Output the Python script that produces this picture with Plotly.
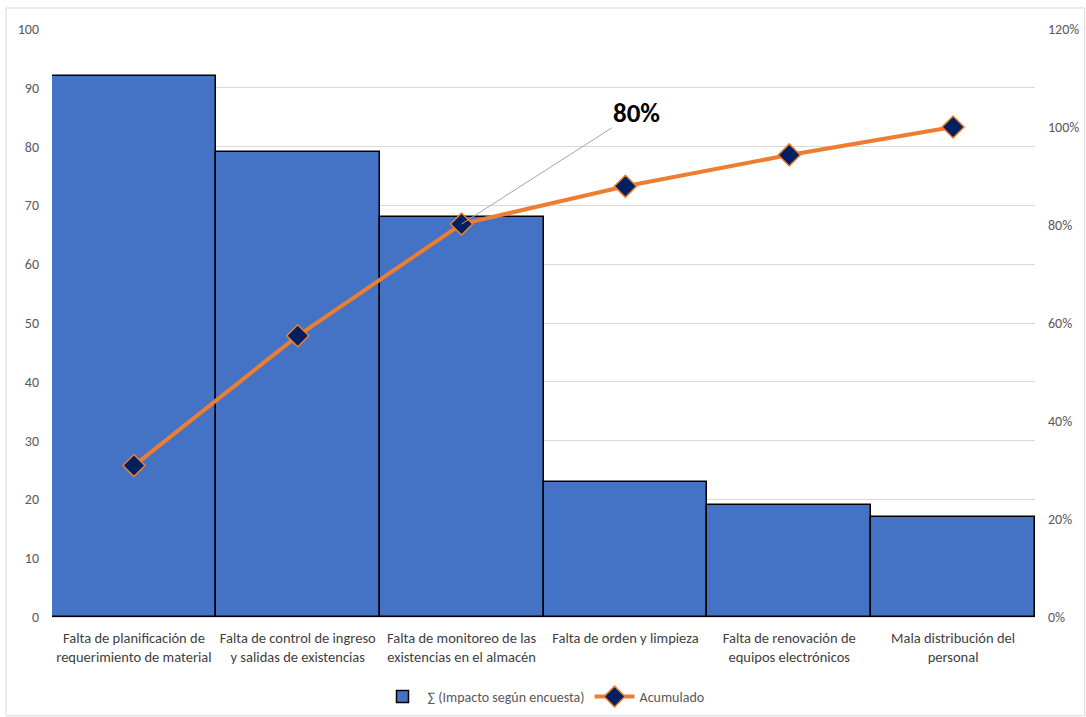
import plotly.graph_objects as go

categories = [
    "Falta de planificación de<br>requerimiento de material",
    "Falta de control de ingreso<br>y salidas de existencias",
    "Falta de monitoreo de las<br>existencias en el almacén",
    "Falta de orden y limpieza",
    "Falta de renovación de<br>equipos electrónicos",
    "Mala distribución del<br>personal",
]
impacto = [92, 79, 68, 23, 19, 17]
acumulado = [30.9, 57.4, 80.2, 87.9, 94.3, 100.0]
left_ticks = list(range(0, 101, 10))
right_ticks = list(range(0, 121, 20))
right_labels = [f"{v}%" for v in right_ticks]

FONT = "Carlito, Liberation Sans Narrow, Lato, sans-serif"
GRAY = "#595959"

fig = go.Figure()
fig.add_trace(go.Bar(
    x=categories, y=impacto, name="∑ (Impacto según encuesta)",
    marker=dict(color="#4472C4", line=dict(color="black", width=1.5)),
    yaxis="y",
))
fig.add_trace(go.Scatter(
    x=categories, y=acumulado, name="Acumulado", mode="lines+markers",
    line=dict(color="#ED7D31", width=4),
    marker=dict(symbol="diamond", size=17, color="#002060",
                line=dict(color="#ED7D31", width=1.5)),
    yaxis="y2",
))

fig.add_annotation(
    x=categories[2], y=acumulado[2], xref="x", yref="y2",
    text="<b>80%</b>", showarrow=True, arrowhead=0, arrowwidth=1,
    arrowcolor="#a6a6a6", ax=175, ay=-112, xanchor="center",
    font=dict(size=27, color="black", family=FONT),
)

fig.add_shape(type="rect", xref="paper", yref="paper",
              x0=-0.0468, x1=1.0505, y0=-0.168, y1=1.0357,
              line=dict(color="#d9d9d9", width=1), layer="below")

fig.update_layout(
    width=1086, height=717,
    margin=dict(l=52, r=51, t=29, b=100, autoexpand=False),
    paper_bgcolor="white", plot_bgcolor="white",
    font=dict(family=FONT, size=14, color=GRAY),
    bargap=0,
    xaxis=dict(showline=True, linecolor="#d9d9d9", linewidth=1,
               tickfont=dict(size=14.5, color="#404040"), ticks="",
               ticklabelstandoff=8, showgrid=False),
    yaxis=dict(range=[0, 100], tickvals=left_ticks, showgrid=True,
               gridcolor="#d9d9d9", gridwidth=1, zeroline=False,
               ticks="", ticklabelstandoff=12,
               tickfont=dict(size=14, color=GRAY)),
    yaxis2=dict(range=[0, 120], tickvals=right_ticks, ticktext=right_labels,
                overlaying="y", side="right", showgrid=False, zeroline=False,
                ticks="", ticklabelstandoff=12,
                tickfont=dict(size=14, color=GRAY)),
    legend=dict(orientation="h", x=0.5, xanchor="center",
                yref="container", y=0.028, yanchor="middle",
                font=dict(size=14, color=GRAY), itemwidth=40),
    showlegend=True,
)

fig.write_html("out.html")
